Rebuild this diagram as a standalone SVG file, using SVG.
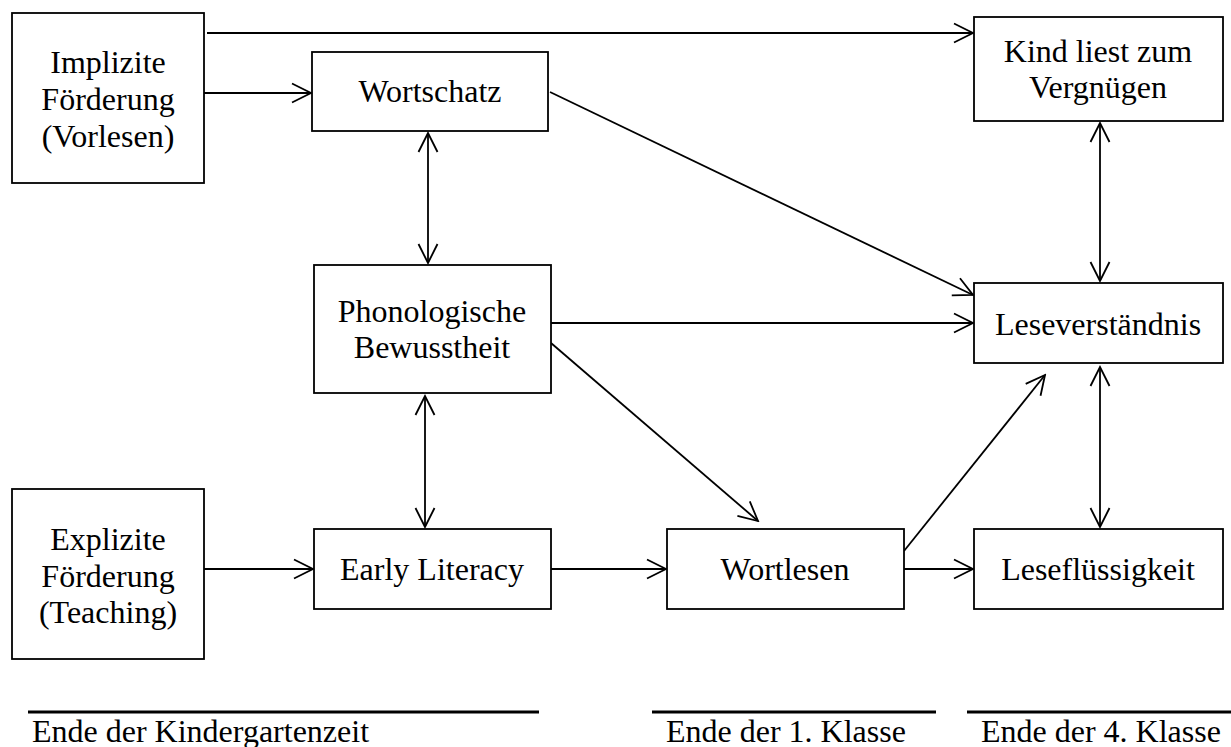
<svg xmlns="http://www.w3.org/2000/svg" width="1231" height="747" viewBox="0 0 1231 747">
  <style>
    .box { fill: #ffffff; stroke: #000000; stroke-width: 1.8; }
    .lbl { font-family: "Liberation Serif", "Times New Roman", serif; font-size: 32px; fill: #000000; text-anchor: middle; }
    .foot { font-family: "Liberation Serif", "Times New Roman", serif; font-size: 32px; fill: #000000; }
    .edge { fill: none; stroke: #000000; stroke-width: 1.8; }
    .rule { stroke: #000000; stroke-width: 3; }
  </style>
  <defs>
    <marker id="head" markerUnits="userSpaceOnUse" viewBox="0 0 22 22" markerWidth="22" markerHeight="22" refX="20" refY="11" orient="auto-start-reverse">
      <path d="M1,1.5 L20,11 L1,20.5" fill="none" stroke="#000000" stroke-width="1.8"/>
    </marker>
  </defs>

  <!-- connectors -->
  <g id="connectors">
    <line class="edge" x1="207" y1="33" x2="973" y2="33" marker-end="url(#head)"/>
    <line class="edge" x1="204" y1="93" x2="311" y2="93" marker-end="url(#head)"/>
    <line class="edge" x1="550" y1="92" x2="973" y2="295" marker-end="url(#head)"/>
    <line class="edge" x1="428" y1="133" x2="428" y2="263" marker-start="url(#head)" marker-end="url(#head)"/>
    <line class="edge" x1="1100" y1="123" x2="1100" y2="281" marker-start="url(#head)" marker-end="url(#head)"/>
    <line class="edge" x1="551" y1="323" x2="973" y2="323" marker-end="url(#head)"/>
    <line class="edge" x1="551" y1="343" x2="758" y2="521" marker-end="url(#head)"/>
    <line class="edge" x1="425" y1="396" x2="425" y2="527" marker-start="url(#head)" marker-end="url(#head)"/>
    <line class="edge" x1="1100" y1="367" x2="1100" y2="527" marker-start="url(#head)" marker-end="url(#head)"/>
    <line class="edge" x1="204" y1="569" x2="313" y2="569" marker-end="url(#head)"/>
    <line class="edge" x1="551" y1="569" x2="666" y2="569" marker-end="url(#head)"/>
    <line class="edge" x1="904" y1="569" x2="973" y2="569" marker-end="url(#head)"/>
    <line class="edge" x1="904" y1="551" x2="1045" y2="375" marker-end="url(#head)"/>
  </g>

  <g id="implizite">
    <rect class="box" x="12" y="13" width="192" height="170"/>
    <text class="lbl" x="108" y="73">Implizite</text>
    <text class="lbl" x="108" y="110">Förderung</text>
    <text class="lbl" x="108" y="147">(Vorlesen)</text>
  </g>
  <g id="wortschatz">
    <rect class="box" x="312" y="52" width="236" height="79"/>
    <text class="lbl" x="430" y="102">Wortschatz</text>
  </g>
  <g id="kind-liest">
    <rect class="box" x="974" y="17" width="249" height="104"/>
    <text class="lbl" x="1098" y="62">Kind liest zum</text>
    <text class="lbl" x="1098" y="98">Vergnügen</text>
  </g>
  <g id="phonologische">
    <rect class="box" x="314" y="265" width="237" height="128"/>
    <text class="lbl" x="432" y="322">Phonologische</text>
    <text class="lbl" x="432" y="358">Bewusstheit</text>
  </g>
  <g id="leseverstaendnis">
    <rect class="box" x="974" y="283" width="249" height="80"/>
    <text class="lbl" x="1098" y="335">Leseverständnis</text>
  </g>
  <g id="explizite">
    <rect class="box" x="12" y="489" width="192" height="170"/>
    <text class="lbl" x="108" y="550">Explizite</text>
    <text class="lbl" x="108" y="587">Förderung</text>
    <text class="lbl" x="108" y="623">(Teaching)</text>
  </g>
  <g id="early-literacy">
    <rect class="box" x="314" y="529" width="237" height="80"/>
    <text class="lbl" x="432" y="580">Early Literacy</text>
  </g>
  <g id="wortlesen">
    <rect class="box" x="667" y="529" width="237" height="80"/>
    <text class="lbl" x="785" y="580">Wortlesen</text>
  </g>
  <g id="lesefluessigkeit">
    <rect class="box" x="974" y="529" width="249" height="80"/>
    <text class="lbl" x="1098" y="580">Leseflüssigkeit</text>
  </g>

  <!-- time axis -->
  <g id="timeline">
    <line class="rule" x1="28" y1="712" x2="539" y2="712"/>
    <line class="rule" x1="652" y1="712" x2="936" y2="712"/>
    <line class="rule" x1="967" y1="712" x2="1231" y2="712"/>
    <text class="foot" x="32" y="742">Ende der Kindergartenzeit</text>
    <text class="foot" x="666" y="742">Ende der 1. Klasse</text>
    <text class="foot" x="981" y="742">Ende der 4. Klasse</text>
  </g>
</svg>
